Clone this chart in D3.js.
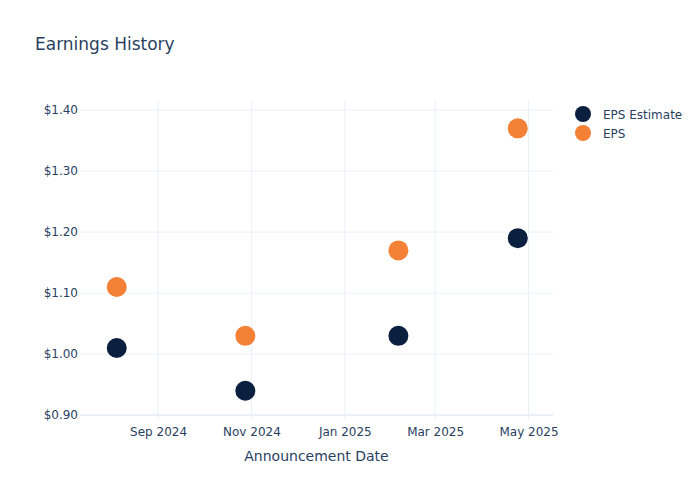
<!DOCTYPE html>
<html>
<head>
<meta charset="utf-8">
<script src="https://cdn.jsdelivr.net/npm/d3@7"></script>
<style>
  body { margin: 0; background: #fff; }
  svg, svg text { font-family: "DejaVu Sans", Verdana, sans-serif; }
</style>
</head>
<body>
<svg id="chart" width="700" height="500"></svg>
<script>
const DATES = ["2024-08-05", "2024-10-28", "2025-02-05", "2025-04-24"];
const EPS_ESTIMATE = [1.01, 0.94, 1.03, 1.19];
const EPS_ACTUAL = [1.11, 1.03, 1.17, 1.37];
const SERIES = ["EPS Estimate", "EPS"];
const COLORS = ["#0b1f3f", "#f58137"];
const Y_TICKS = [0.9, 1.0, 1.1, 1.2, 1.3, 1.4];
const X_TICKS = ["2024-09-01", "2024-11-01", "2025-01-01", "2025-03-01", "2025-05-01"];

const parse = d3.timeParse("%Y-%m-%d");
const svg = d3.select("#chart");
const textColor = "#2a3f5f";
const gridColor = "#ebf0f8";

const plotLeft = 80, plotRight = 553, plotTop = 100, plotBottom = 420;

let x = d3.scaleTime()
    .domain([parse("2024-07-12"), parse("2025-05-17")])
    .range([plotLeft, plotRight]);

let y = d3.scaleLinear()
    .domain([0.892, 1.4165])
    .range([plotBottom, plotTop]);

// grid
svg.append("g")
    .selectAll("line")
    .data(X_TICKS)
    .enter()
    .append("line")
    .attr("x1", d => x(parse(d)))
    .attr("x2", d => x(parse(d)))
    .attr("y1", plotTop)
    .attr("y2", plotBottom)
    .attr("stroke", gridColor)
    .attr("stroke-width", 1);

svg.append("g")
    .selectAll("line")
    .data(Y_TICKS)
    .enter()
    .append("line")
    .attr("x1", plotLeft)
    .attr("x2", plotRight)
    .attr("y1", d => y(d))
    .attr("y2", d => y(d))
    .attr("stroke", gridColor)
    .attr("stroke-width", d => d === 0.9 ? 2 : 1);

// axes
let xAxis = d3.axisBottom(x)
    .tickValues(X_TICKS.map(parse))
    .tickFormat(d3.timeFormat("%b %Y"))
    .tickSize(0)
    .tickPadding(7);

let gx = svg.append("g")
    .attr("transform", "translate(0," + plotBottom + ")")
    .call(xAxis)
    .attr("font-family", null);
gx.select(".domain").remove();
gx.selectAll("text")
    .attr("fill", textColor)
    .style("font-size", "12px");

let yAxis = d3.axisLeft(y)
    .tickValues(Y_TICKS)
    .tickFormat(d => "$" + d3.format(".2f")(d))
    .tickSize(0)
    .tickPadding(2);

let gy = svg.append("g")
    .attr("transform", "translate(" + plotLeft + ",0)")
    .call(yAxis)
    .attr("font-family", null);
gy.select(".domain").remove();
gy.selectAll("text")
    .attr("fill", textColor)
    .style("font-size", "12px");

// points
let allSeries = [EPS_ESTIMATE, EPS_ACTUAL];
allSeries.forEach((values, s) => {
    svg.append("g")
        .selectAll("circle")
        .data(values)
        .enter()
        .append("circle")
        .attr("cx", (d, i) => x(parse(DATES[i])))
        .attr("cy", d => y(d))
        .attr("r", 10)
        .attr("fill", COLORS[s]);
});

// title
svg.append("text")
    .attr("x", 35)
    .attr("y", 50)
    .attr("fill", textColor)
    .style("font-size", "17px")
    .text("Earnings History");

svg.append("text")
    .attr("x", (plotLeft + plotRight) / 2)
    .attr("y", 461)
    .attr("text-anchor", "middle")
    .attr("fill", textColor)
    .style("font-size", "14px")
    .text("Announcement Date");

// legend
let legend = svg.append("g")
    .selectAll("g")
    .data(SERIES)
    .enter()
    .append("g")
    .attr("transform", (d, i) => "translate(583," + (114 + i * 19) + ")");

legend.append("circle")
    .attr("r", 8)
    .attr("fill", (d, i) => COLORS[i]);

legend.append("text")
    .attr("x", 20)
    .attr("y", 4.5)
    .attr("fill", textColor)
    .style("font-size", "12px")
    .text(d => d);
</script>
</body>
</html>
